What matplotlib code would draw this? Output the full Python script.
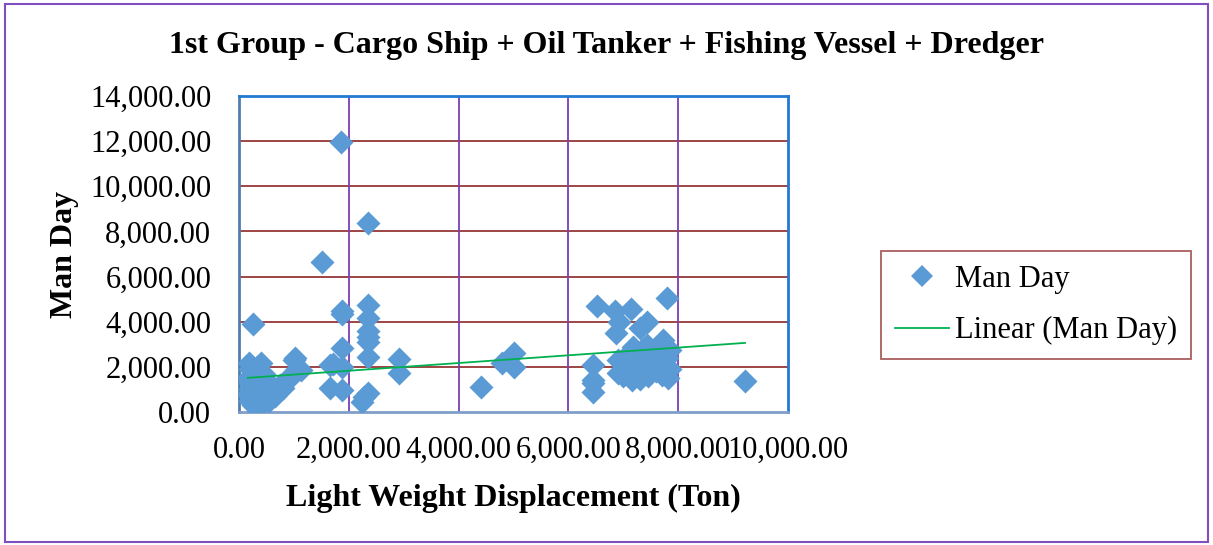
import matplotlib
matplotlib.use("Agg")
import matplotlib.pyplot as plt
import numpy as np
from matplotlib.patches import Rectangle
from matplotlib.lines import Line2D

# ---- data ----
x_ton = [
    # isolated points, left/middle
    1852, 2356, 1512, 249, 1870, 1870, 2356, 2356, 2356, 2356, 2356, 1870, 2356,
    2920, 2920, 1020, 1718, 1870, 1658, 1882, 2356, 2235, 4402, 4785, 5009, 5009,
    9217, 1658, 2270,
    # left dense cluster
    180, 400, 200, 300, 450, 250, 350, 500, 200, 300, 420, 550, 200, 320, 450,
    600, 250, 380, 500, 650, 200, 300, 450, 550, 250, 420, 700, 796, 887, 950,
    1008, 1130, 1050, 750, 160, 160, 330, 260,
    # right cluster
    6527, 7802, 6849, 7135, 6928, 6867, 7426, 7304, 7729, 7182, 7426, 6454, 6454,
    6440, 6440, 7820, 7152, 6903,
    6900, 7000, 7100, 7200, 7300, 7400, 7500, 7600, 7700, 7800, 7000, 7250, 7450,
    7600, 7750, 7100, 7350, 7300, 7550, 7850, 7700, 7850,
]
man_day = [
    11950, 8390, 6646, 3900, 4490, 4340, 4740, 4180, 3600, 3340, 3090, 2850, 2450,
    2335, 1715, 2380, 2127, 2007, 1050, 975, 828, 457, 1122, 2185, 2630, 2007,
    1387, 2082, 650,
    2150, 2150, 1900, 1800, 1700, 1600, 1500, 1400, 1300, 1200, 1100, 1000, 1000,
    900, 800, 850, 700, 600, 650, 700, 500, 400, 450, 500, 300, 350, 900, 1063,
    1418, 1650, 2300, 1860, 1900, 1200, 1500, 800, 2000, 1100,
    4710, 5065, 4475, 4565, 4000, 3485, 3975, 3710, 3190, 2895, 2970, 2080, 1418,
    900, 1270, 1490, 1418, 1728,
    2300, 2100, 1900, 2200, 2500, 2000, 2300, 1800, 2100, 2400, 1600, 1700, 1600,
    2500, 2750, 2600, 2800, 1450, 1950, 1900, 1650, 2750,
]
trend_slope = 0.171
trend_intercept = 1486

title = "1st Group - Cargo Ship + Oil Tanker + Fishing Vessel + Dredger"
xlabel = "Light Weight Displacement (Ton)"
ylabel = "Man Day"
series_name = "Man Day"
trend_name = "Linear (Man Day)"
x_ticks = [0, 2000, 4000, 6000, 8000, 10000]
y_ticks = [0, 2000, 4000, 6000, 8000, 10000, 12000, 14000]

# ---- figure ----
plt.rcParams['font.family'] = ['Liberation Serif', 'DejaVu Serif']
W, H = 1213, 545
fig = plt.figure(figsize=(W / 100, H / 100), dpi=100)
ax = fig.add_axes([239 / W, 1 - 412 / H, (788 - 239) / W, (412 - 96) / H])

ax.set_xlim(0, 10000)
ax.set_ylim(0, 14000)
ax.set_xticks(x_ticks)
ax.set_yticks(y_ticks)
ax.set_xticklabels([f"{v:,.2f}" for v in x_ticks])
ax.set_yticklabels([f"{v:,.2f}" for v in y_ticks])
ax.tick_params(axis='both', length=0, labelsize=22, colors='black')
ax.tick_params(axis='y', pad=20)
ax.tick_params(axis='x', pad=17)

for v in y_ticks[1:-1]:
    ax.axhline(v, color='#953735', lw=1.3, zorder=1)
for v in x_ticks[1:-1]:
    ax.axvline(v, color='#7A3FB5', lw=1.3, zorder=1)

ax.spines['left'].set_color('#4F7DAE')
ax.spines['bottom'].set_color('#7F9FC8')
ax.spines['top'].set_color('#2479D0')
ax.spines['right'].set_color('#2479D0')
for s in ax.spines.values():
    s.set_linewidth(2)

ax.scatter(x_ton, man_day, marker='D', s=150, color='#5B9BD5', zorder=3,
           linewidths=0)
xs = np.array([min(x_ton), max(x_ton)])
ax.plot(xs, trend_slope * xs + trend_intercept, color='#00B050', lw=1.3,
        zorder=4)

fig.text(0.5, 1 - 45 / H, title, ha='center', va='center', fontsize=23,
         fontweight='bold')
ax.set_xlabel(xlabel, fontsize=23, fontweight='bold', labelpad=14)
ax.set_ylabel(ylabel, fontsize=23, fontweight='bold', labelpad=8)

handles = [
    Line2D([], [], marker='D', ls='none', color='#5B9BD5', markersize=11,
           markeredgewidth=0),
    Line2D([], [], color='#00B050', lw=1.3),
]
leg = fig.legend(handles, [series_name, trend_name], loc='center',
                 bbox_to_anchor=(1036 / W, 1 - 305 / H), fontsize=22,
                 frameon=True, fancybox=False, handlelength=1.75,
                 handletextpad=0.2, labelspacing=0.75, borderpad=0.45,
                 borderaxespad=0)
leg.get_frame().set_edgecolor('#953735')
leg.get_frame().set_linewidth(1.3)

fig.patches.append(Rectangle((5 / W, 3 / H), 1203 / W, 538 / H,
                             transform=fig.transFigure, fill=False,
                             edgecolor='#7F4FBF', lw=1.5))

fig.savefig("out.png", dpi=100)
